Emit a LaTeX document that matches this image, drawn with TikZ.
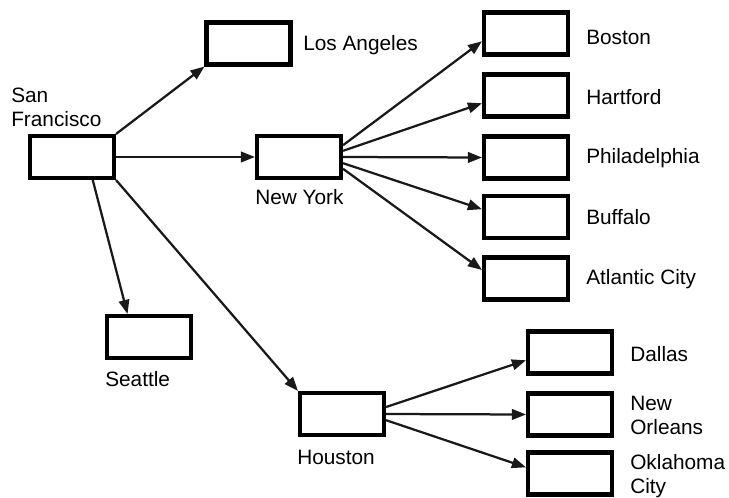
\documentclass[tikz,border=0pt]{standalone}
\usepackage{fontspec}
\setmainfont{Liberation Sans}
\usetikzlibrary{arrows.meta}

\begin{document}
\begin{tikzpicture}[
        box_style/.style={rectangle,draw=black,fill=white,line width=2.9pt,minimum width=2.1cm,minimum height=1.05cm,inner sep=0pt},
        text_style/.style={anchor=west,inner sep=0pt,align=left,font=\fontsize{14.8}{17}\selectfont},
        edge_style/.style={draw=black!90,line width=1.6pt,-{Triangle[length=10pt,width=7.5pt]}}]
        \useasboundingbox (0,0) rectangle (18.225,-12.45);

        \node [box_style](sf) at (1.8,-3.925) {};
        \node [box_style](la) at (6.2125,-1.0875) {};
        \node [box_style](ny) at (7.475,-3.925) {};
        \node [box_style](sea) at (3.725,-8.425) {};
        \node [box_style](hou) at (8.55,-10.35) {};
        \node [box_style](bos) at (13.15,-0.8375) {};
        \node [box_style](har) at (13.15,-2.3875) {};
        \node [box_style](phi) at (13.15,-3.9375) {};
        \node [box_style](buf) at (13.15,-5.425) {};
        \node [box_style](atl) at (13.15,-6.9625) {};
        \node [box_style](dal) at (14.25,-8.8125) {};
        \node [box_style](nor) at (14.25,-10.3625) {};
        \node [box_style](okc) at (14.25,-11.8375) {};

        \node [text_style](t_sf) at (0.275,-2.6875) {San\\Francisco};
        \node [text_style](t_la) at (7.575,-1.125) {Los Angeles};
        \node [text_style](t_ny) at (6.375,-4.925) {New York};
        \node [text_style](t_sea) at (2.625,-9.475) {Seattle};
        \node [text_style](t_hou) at (7.425,-11.425) {Houston};
        \node [text_style](t_bos) at (14.65,-0.925) {Boston};
        \node [text_style](t_har) at (14.65,-2.425) {Hartford};
        \node [text_style](t_phi) at (14.65,-3.95) {Philadelphia};
        \node [text_style](t_buf) at (14.65,-5.425) {Buffalo};
        \node [text_style](t_atl) at (14.65,-6.975) {Atlantic City};
        \node [text_style](t_dal) at (15.75,-8.85) {Dallas};
        \node [text_style](t_nor) at (15.75,-10.375) {New\\Orleans};
        \node [text_style](t_okc) at (15.75,-11.9) {Oklahoma\\City};

        \draw [edge_style] (sf.north east) -- (la.south west);
        \draw [edge_style] (sf.east) -- (ny.west);
        \draw [edge_style] (sf.-48) -- (sea.133);
        \draw [edge_style] (sf.south east) -- (hou.north west);
        \draw [edge_style] (ny.15) -- (bos.190);
        \draw [edge_style] (ny.8) -- (har.190);
        \draw [edge_style] (ny.east) -- (phi.west);
        \draw [edge_style] (ny.-8) -- (buf.170);
        \draw [edge_style] (ny.-15) -- (atl.169);
        \draw [edge_style] (hou.9) -- (dal.190);
        \draw [edge_style] (hou.east) -- (nor.west);
        \draw [edge_style] (hou.-8) -- (okc.172);
\end{tikzpicture}
\end{document}
